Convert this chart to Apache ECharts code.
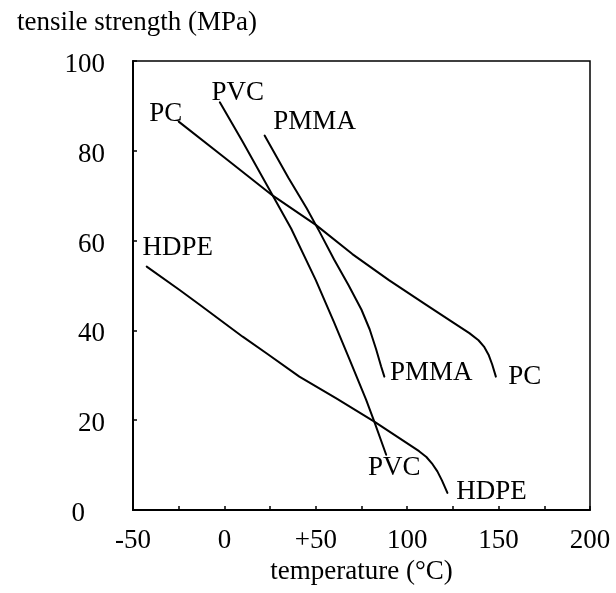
<!DOCTYPE html>
<html>
<head>
<meta charset="utf-8">
<script src="https://cdn.jsdelivr.net/npm/echarts@6/dist/echarts.min.js"></script>
<style>
  html, body { margin: 0; padding: 0; background: #fff; }
  #chart { width: 616px; height: 593px; }
</style>
</head>
<body>
<div id="chart"></div>
<script>
// Tensile strength of four polymers against temperature: [°C, MPa]
const pcData = [[-25, 86.5], [0, 78.5], [26.5, 70], [50, 63.5], [70, 57], [90, 51.2],
  [110, 45.8], [125, 41.8], [134, 39.4], [139, 37.8], [142, 36.4], [144.5, 34.6], [146.5, 32.4], [148.5, 29.7]];
const pvcData = [[-2.5, 90.8], [10, 82], [26.5, 70], [36.5, 62.7], [50, 51.2], [60, 41.8],
  [68.5, 33.5], [77.5, 24.6], [82, 19.7], [88.5, 12.3]];
const pmmaData = [[22, 83.4], [35, 74], [45, 67.2], [52, 62], [60, 55.8], [68, 50],
  [75, 44.6], [79.5, 40.2], [83, 35.8], [85.7, 32], [87.5, 29.7]];
const hdpeData = [[-42.5, 54.2], [-24.5, 49], [-13.5, 45.7], [10, 38.6], [23, 34.9], [41, 29.7],
  [61, 24.9], [82, 19.7], [106.5, 13.1], [110.5, 11.8], [113.5, 10.4], [116.5, 8.6], [119, 6.6], [122, 3.8]];

const seriesNames = ['PC', 'PVC', 'PMMA', 'HDPE'];
const seriesValues = [pcData, pvcData, pmmaData, hdpeData];

// Axis ticks and their printed labels
const xTickValues = [-50, 0, 50, 100, 150, 200];
const xTickLabels = ['-50', '0', '+50', '100', '150', '200'];
const yTickValues = [0, 20, 40, 60, 80, 100];
const yTickLabels = ['0', '20', '40', '60', '80', '100'];

const serif = '"Liberation Serif", "DejaVu Serif", serif';
const fontSize = 27;

// Where each curve's name sits relative to its first and last point (px)
const labelOffsets = {
  PC:   { start: [-13, -8], end: [29, 0] },
  PVC:  { start: [18, -9], end: [8, 13] },
  PMMA: { start: [50, -14], end: [47, -4] },
  HDPE: { start: [31, -19], end: [44, -1] }
};

function endLabel(name, offset) {
  return {
    show: true,
    formatter: name,
    position: 'inside',
    offset: offset,
    color: '#000',
    fontFamily: serif,
    fontSize: fontSize
  };
}

function buildSeries(name, values) {
  const off = labelOffsets[name];
  const data = values.map((p, i) => {
    const item = { value: p };
    if (i === 0) item.label = endLabel(name, off.start);
    else if (i === values.length - 1) item.label = endLabel(name, off.end);
    return item;
  });
  return {
    name: name,
    type: 'line',
    data: data,
    smooth: false,
    symbol: 'circle',
    symbolSize: 0.01,
    itemStyle: { color: '#000' },
    lineStyle: { color: '#000', width: 2, join: 'round', cap: 'round' },
    label: { show: false },
    emphasis: { disabled: true },
    silent: true,
    z: 3
  };
}

const chart = echarts.init(document.getElementById('chart'), null, { renderer: 'canvas' });

chart.setOption({
  animation: false,
  backgroundColor: '#fff',
  title: {
    text: 'tensile strength (MPa)',
    left: 12,
    top: 4,
    textStyle: { fontFamily: serif, fontSize: fontSize, fontWeight: 'normal', color: '#000' }
  },
  grid: {
    left: 133,
    right: 26,
    top: 61,
    bottom: 83,
    show: true,
    borderColor: '#000',
    borderWidth: 1.5,
    backgroundColor: 'transparent'
  },
  xAxis: {
    type: 'value',
    min: -50,
    max: 200,
    interval: 25,
    name: 'temperature (°C)',
    nameLocation: 'middle',
    nameGap: 48,
    nameTextStyle: { fontFamily: serif, fontSize: fontSize, color: '#000' },
    axisLine: { show: true, onZero: false, lineStyle: { color: '#000', width: 2 } },
    axisTick: { show: true, inside: true, length: 4, lineStyle: { color: '#000', width: 1.5 } },
    splitLine: { show: false },
    axisLabel: {
      margin: 17,
      fontFamily: serif,
      fontSize: fontSize,
      color: '#000',
      formatter: function (v) {
        const i = xTickValues.indexOf(v);
        return i >= 0 ? xTickLabels[i] : '';
      }
    }
  },
  yAxis: {
    type: 'value',
    min: 0,
    max: 100,
    interval: 20,
    axisLine: { show: true, onZero: false, lineStyle: { color: '#000', width: 2 } },
    axisTick: { show: true, inside: true, length: 4, lineStyle: { color: '#000', width: 1.5 } },
    splitLine: { show: false },
    axisLabel: {
      margin: 28,
      padding: [8, 0, 0, 0],
      fontFamily: serif,
      fontSize: fontSize,
      color: '#000',
      formatter: function (v) {
        const i = yTickValues.indexOf(v);
        if (i < 0) return '';
        return v === 0 ? '{z|' + yTickLabels[i] + '}' : yTickLabels[i];
      },
      rich: {
        z: { fontFamily: serif, fontSize: fontSize, color: '#000', padding: [0, 20, 0, 0] }
      }
    }
  },
  series: seriesNames.map((n, i) => buildSeries(n, seriesValues[i]))
});
</script>
</body>
</html>
